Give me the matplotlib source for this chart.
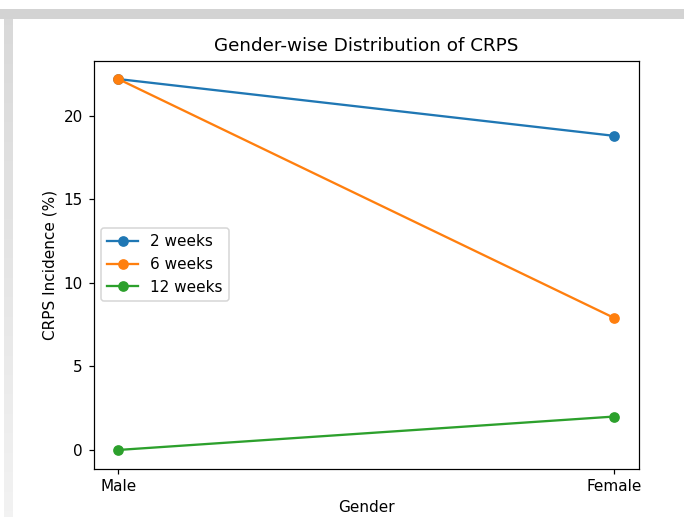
import numpy as np
import matplotlib
matplotlib.use("Agg")
import matplotlib.pyplot as plt
from matplotlib.patches import Rectangle

genders = ["Male", "Female"]
weeks_2 = [22.2, 18.8]
weeks_6 = [22.2, 7.9]
weeks_12 = [0.0, 2.0]
labels = ["2 weeks", "6 weeks", "12 weeks"]

W, H = 684, 517
fig = plt.figure(figsize=(W / 110, H / 110), dpi=110)

# screenshot frame: grey band on top, fading strip on the left
fig.patches.append(Rectangle((0, (H - 19) / H), 1, 10 / H, transform=fig.transFigure,
                             facecolor="#d3d3d3", edgecolor="none", zorder=0))
bg = fig.add_axes([4 / W, 0, 9 / W, (H - 19) / H], zorder=-1)
shade = np.linspace(0.85, 0.95, 256).reshape(-1, 1, 1) * np.ones((1, 1, 3))
bg.imshow(shade, aspect="auto", origin="upper", extent=[0, 1, 0, 1])
bg.axis("off")

ax = fig.add_axes([93.5 / W, (H - 468.5) / H, (639 - 93.5) / W, (468.5 - 60.5) / H])
ax.plot(genders, weeks_2, marker="o", label=labels[0])
ax.plot(genders, weeks_6, marker="o", label=labels[1])
ax.plot(genders, weeks_12, marker="o", label=labels[2])
ax.set_title("Gender-wise Distribution of CRPS")
ax.set_xlabel("Gender")
ax.set_ylabel("CRPS Incidence (%)")
ax.legend(loc="center left")

fig.savefig("out.png", dpi=110)
